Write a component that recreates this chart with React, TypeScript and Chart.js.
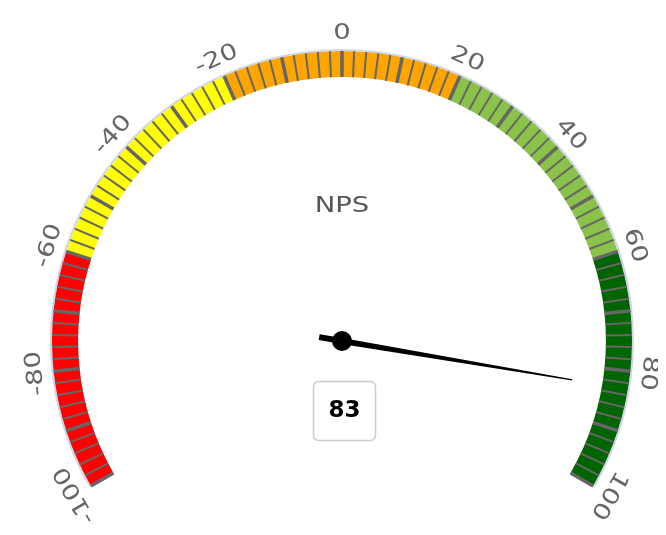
import React, { useEffect, useRef } from 'react';
import { Chart, registerables } from 'chart.js';

Chart.register(...registerables);

// ---- data ----
const chartTitle = 'NPS';
const bandNames = ['-100 to -60', '-60 to -20', '-20 to 20', '20 to 60', '60 to 100'];
const bandFrom = [-100, -60, -20, 20, 60];
const bandTo = [-60, -20, 20, 60, 100];
const scaleMin = -100;
const scaleMax = 100;
const majorTickStep = 10;
const minorTickStep = 2;
const tickLabelValues = [-100, -80, -60, -40, -20, 0, 20, 40, 60, 80, 100];
const npsValue = 83;

// ---- styles ----
const bandColors = ['#ff0000', '#ffff00', '#ffa500', '#8bc34a', '#006400'];
const FONT = '"DejaVu Sans", "Noto Sans", sans-serif';

export default function App() {
  const ref = useRef<HTMLCanvasElement>(null);

  useEffect(() => {
    const canvas = ref.current;
    if (!canvas) return;

    const gaugePlugin = {
      id: 'gaugeOverlay',
      afterDatasetsDraw(chart: any) {
        const meta = chart.getDatasetMeta(0);
        const first = meta.data[0] as any;
        const last = meta.data[meta.data.length - 1] as any;
        const cx = first.x;
        const cy = first.y;
        const rOut = first.outerRadius;
        const rIn = first.innerRadius;
        const a0 = first.startAngle;
        const a1 = last.endAngle;
        const ang = (v: number) => a0 + ((v - scaleMin) / (scaleMax - scaleMin)) * (a1 - a0);
        const ctx: CanvasRenderingContext2D = chart.ctx;

        ctx.save();
        // soft outer border of the pane
        ctx.beginPath();
        ctx.arc(cx, cy, rOut + 1, a0, a1);
        ctx.strokeStyle = 'rgba(170,180,215,0.55)';
        ctx.lineWidth = 2;
        ctx.stroke();

        // minor ticks
        ctx.strokeStyle = '#666666';
        ctx.lineCap = 'butt';
        for (let v = scaleMin; v <= scaleMax + 1e-9; v += minorTickStep) {
          if (Math.abs(v % majorTickStep) < 1e-9) continue;
          const t = ang(v);
          ctx.beginPath();
          ctx.moveTo(cx + rIn * Math.cos(t), cy + rIn * Math.sin(t));
          ctx.lineTo(cx + rOut * Math.cos(t), cy + rOut * Math.sin(t));
          ctx.lineWidth = 2;
          ctx.stroke();
        }
        // major ticks
        for (let v = scaleMin; v <= scaleMax + 1e-9; v += majorTickStep) {
          const t = ang(v);
          ctx.beginPath();
          ctx.moveTo(cx + rIn * Math.cos(t), cy + rIn * Math.sin(t));
          ctx.lineTo(cx + rOut * Math.cos(t), cy + rOut * Math.sin(t));
          ctx.lineWidth = 3.5;
          ctx.stroke();
        }

        // tick labels
        ctx.fillStyle = '#666666';
        ctx.font = `22px ${FONT}`;
        ctx.textAlign = 'center';
        ctx.textBaseline = 'middle';
        const rLab = rOut + 19;
        tickLabelValues.forEach((v) => {
          const t = ang(v);
          ctx.save();
          ctx.translate(cx + rLab * Math.cos(t), cy + rLab * Math.sin(t));
          ctx.rotate(t + Math.PI / 2);
          ctx.scale(1.25, 1);
          ctx.fillText(String(v), 0, 1);
          ctx.restore();
        });

        // title in the middle
        ctx.save();
        ctx.fillStyle = '#555555';
        ctx.font = `22px ${FONT}`;
        ctx.translate(cx, cy - 135);
        ctx.scale(1.25, 1);
        ctx.fillText(chartTitle, 0, 0);
        ctx.restore();

        // needle
        const tv = ang(npsValue);
        const needleLen = rOut * 0.805;
        const rear = rOut * 0.08;
        ctx.save();
        ctx.translate(cx, cy);
        ctx.rotate(tv);
        ctx.beginPath();
        ctx.moveTo(-rear, -3);
        ctx.lineTo(0, -3);
        ctx.lineTo(needleLen, -0.6);
        ctx.lineTo(needleLen, 0.6);
        ctx.lineTo(0, 3);
        ctx.lineTo(-rear, 3);
        ctx.closePath();
        ctx.fillStyle = '#000000';
        ctx.fill();
        ctx.restore();
        // pivot
        ctx.beginPath();
        ctx.arc(cx, cy, 10, 0, Math.PI * 2);
        ctx.fillStyle = '#000000';
        ctx.fill();

        // value box
        const bx = cx - 29;
        const by = cy + 40;
        const bw = 62;
        const bh = 59;
        ctx.beginPath();
        ctx.roundRect(bx + 0.5, by + 0.5, bw, bh, 5);
        ctx.fillStyle = '#ffffff';
        ctx.fill();
        ctx.strokeStyle = '#cccccc';
        ctx.lineWidth = 1.5;
        ctx.stroke();
        ctx.fillStyle = '#000000';
        ctx.font = `bold 23px ${FONT}`;
        ctx.textAlign = 'center';
        ctx.textBaseline = 'middle';
        ctx.fillText(String(npsValue), bx + bw / 2 + 0.5, by + bh / 2 + 1);
        ctx.restore();
      },
    };

    const chart = new Chart(canvas, {
      type: 'doughnut',
      data: {
        labels: bandNames,
        datasets: [
          {
            data: bandFrom.map((f, i) => bandTo[i] - f),
            backgroundColor: bandColors,
            borderWidth: 0,
          },
        ],
      },
      options: {
        responsive: false,
        animation: false,
        rotation: -120,
        circumference: 240,
        cutout: '91%',
        layout: { padding: { left: 34, right: 16, top: 43, bottom: 41 } },
        plugins: {
          legend: { display: false },
          tooltip: { enabled: false },
          title: { display: false },
        },
        events: [],
      },
      plugins: [gaugePlugin],
    });

    return () => chart.destroy();
  }, []);

  return <canvas ref={ref} width={650} height={519} style={{ display: 'block' }} />;
}
